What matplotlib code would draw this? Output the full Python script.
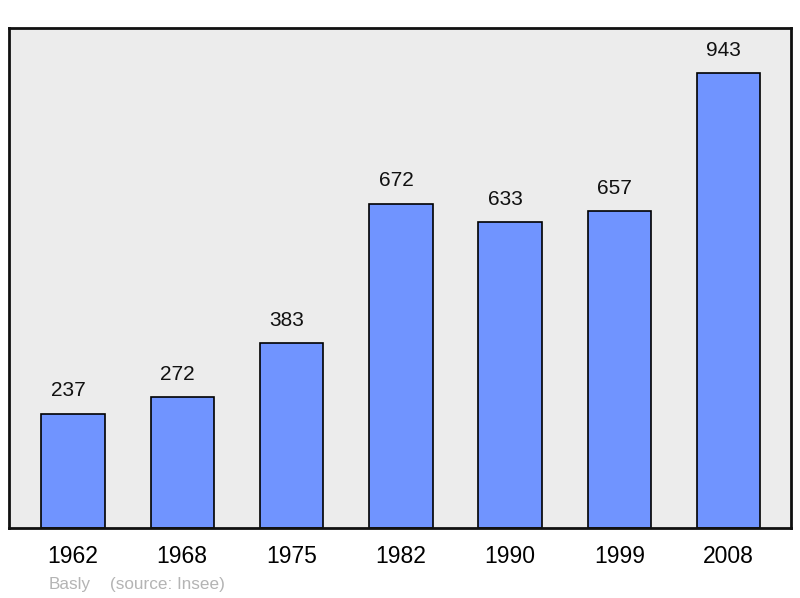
import matplotlib.pyplot as plt

plt.rcParams['font.family'] = ['Liberation Sans', 'DejaVu Sans']

years = ['1962', '1968', '1975', '1982', '1990', '1999', '2008']
population = [237, 272, 383, 672, 633, 657, 943]

fig = plt.figure(figsize=(8, 5.98), dpi=100)
ax = fig.add_axes([9 / 800, 70 / 598, 782 / 800, 500 / 598])
ax.set_facecolor('#ececec')

x = range(len(years))
ax.bar(x, population, width=0.58, color='#7094ff', edgecolor='black', linewidth=1.2, zorder=2)

for i, v in zip(x, population):
    ax.annotate(str(v), (i, v), xytext=(-3.5, 9.5), textcoords='offset points',
                ha='center', va='bottom', fontsize=15, color='#111111')

ax.set_xlim(-0.585, 6.57)
ax.set_ylim(0, 1036)
ax.set_xticks(list(x))
ax.set_xticklabels(years, fontsize=16.5)
ax.tick_params(axis='x', length=0, pad=12)
ax.set_yticks([])
for s in ax.spines.values():
    s.set_linewidth(2)
    s.set_color('#111111')

fig.text(49 / 800, 1 - 584 / 598, 'Basly', fontsize=12.3, color='#b4b4b4', va='center')
fig.text(110 / 800, 1 - 584 / 598, '(source: Insee)', fontsize=12.3, color='#b4b4b4', va='center')

fig.savefig('out.png', dpi=100)
